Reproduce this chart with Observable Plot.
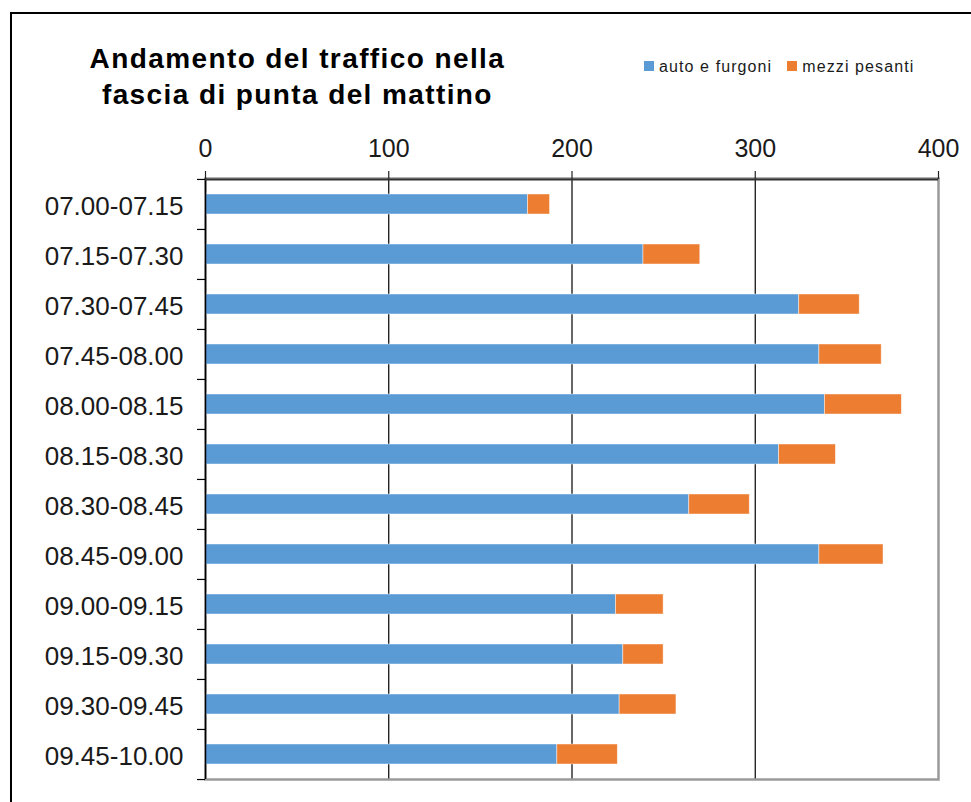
<!DOCTYPE html>
<html><head><meta charset="utf-8">
<script src="https://cdn.jsdelivr.net/npm/d3@7"></script>
<script src="https://cdn.jsdelivr.net/npm/@observablehq/plot@0.6"></script>
<style>
html,body{margin:0;padding:0;background:#fff;overflow:hidden;width:971px;height:802px;}
#wrap{position:relative;width:971px;height:802px;font-family:"Liberation Sans",Arial,sans-serif;overflow:hidden;}
#frame{position:absolute;left:10px;top:12px;width:1200px;height:1200px;border-left:2px solid #000;border-top:2px solid #000;}
#chart{position:absolute;left:0;top:0;}
#title{position:absolute;left:0;top:40.5px;width:592px;text-align:center;font-weight:bold;font-size:28px;line-height:36px;letter-spacing:1.4px;padding-left:1.4px;color:#000;}
#legend{position:absolute;left:644px;top:59px;display:flex;gap:15px;}
.item{display:flex;align-items:flex-start;}
.sw{width:10px;height:10px;margin-top:2px;margin-right:5px;}
.lt{font-size:16px;line-height:16px;letter-spacing:1.1px;color:#1a1a1a;white-space:nowrap;}
</style></head><body>
<div id="wrap">
<div id="frame"></div>
<div id="chart"></div>
<div id="title">Andamento del traffico nella<br>fascia di punta del mattino</div>
<div id="legend"></div>
</div>
<script>
const categories = ["07.00-07.15","07.15-07.30","07.30-07.45","07.45-08.00","08.00-08.15","08.15-08.30","08.30-08.45","08.45-09.00","09.00-09.15","09.15-09.30","09.30-09.45","09.45-10.00"];
const autoFurgoni = [176, 239, 324, 335, 338, 313, 264, 335, 224, 228, 226, 192];
const mezziPesanti = [12, 31, 33, 34, 42, 31, 33, 35, 26, 22, 31, 33];
const seriesNames = ["auto e furgoni", "mezzi pesanti"];
const seriesColors = ["#5B9BD5", "#ED7D31"];
const xTicks = [0, 100, 200, 300, 400];
const gridTicks = [100, 200, 300];

const W = 971, H = 802, mT = 178, mB = 23, mL = 205, mR = 33;
const step = (H - mT - mB) / categories.length;

const rows = categories.flatMap((c, i) => [
  {slot: c, type: seriesNames[0], value: autoFurgoni[i]},
  {slot: c, type: seriesNames[1], value: mezziPesanti[i]}
]);

const plot = Plot.plot({
  width: W, height: H,
  marginTop: mT, marginBottom: mB, marginLeft: mL, marginRight: mR,
  style: {fontFamily: "'Liberation Sans', Arial, sans-serif", color: "#1a1a1a", background: "transparent", overflow: "visible"},
  x: {domain: [0, 400], axis: null, label: null},
  y: {domain: categories, paddingInner: 0.61, paddingOuter: 0.305, axis: null, label: null},
  color: {domain: seriesNames, range: seriesColors},
  marks: [
    Plot.ruleX(gridTicks, {stroke: "#000", strokeWidth: 1.2}),
    Plot.frame({stroke: "#9a9a9a", strokeWidth: 2.5}),
    Plot.barX(rows, {x: "value", y: "slot", fill: "type", stroke: "#fff", strokeWidth: 0.75, strokeOpacity: 0.6}),
    Plot.ruleX([0], {stroke: "#000", strokeWidth: 1.5}),
    Plot.ruleY([categories[0]], {dy: -step / 2, stroke: "#333", strokeWidth: 2}),
    Plot.axisX(xTicks, {anchor: "top", tickSize: 8, tickPadding: 14, fontSize: 25, stroke: "#222", strokeWidth: 1.2, label: null}),
    Plot.axisY(categories, {anchor: "left", tickSize: 8, tickFormat: () => "", dy: -step / 2, stroke: "#000", strokeWidth: 1.2, label: null}),
    Plot.axisY([categories[categories.length - 1]], {anchor: "left", tickSize: 8, tickFormat: () => "", dy: step / 2, stroke: "#000", strokeWidth: 1.2, label: null}),
    Plot.axisY(categories, {anchor: "left", tickSize: 0, tickPadding: 22, fontSize: 26, dy: 2, label: null, style: {letterSpacing: "0.4px"}})
  ]
});
document.getElementById("chart").appendChild(plot);

const legend = document.getElementById("legend");
seriesNames.forEach((name, i) => {
  const item = document.createElement("div");
  item.className = "item";
  const sw = document.createElement("div");
  sw.className = "sw";
  sw.style.background = seriesColors[i];
  const lt = document.createElement("div");
  lt.className = "lt";
  lt.textContent = name;
  item.appendChild(sw);
  item.appendChild(lt);
  legend.appendChild(item);
});
</script>
</body></html>
